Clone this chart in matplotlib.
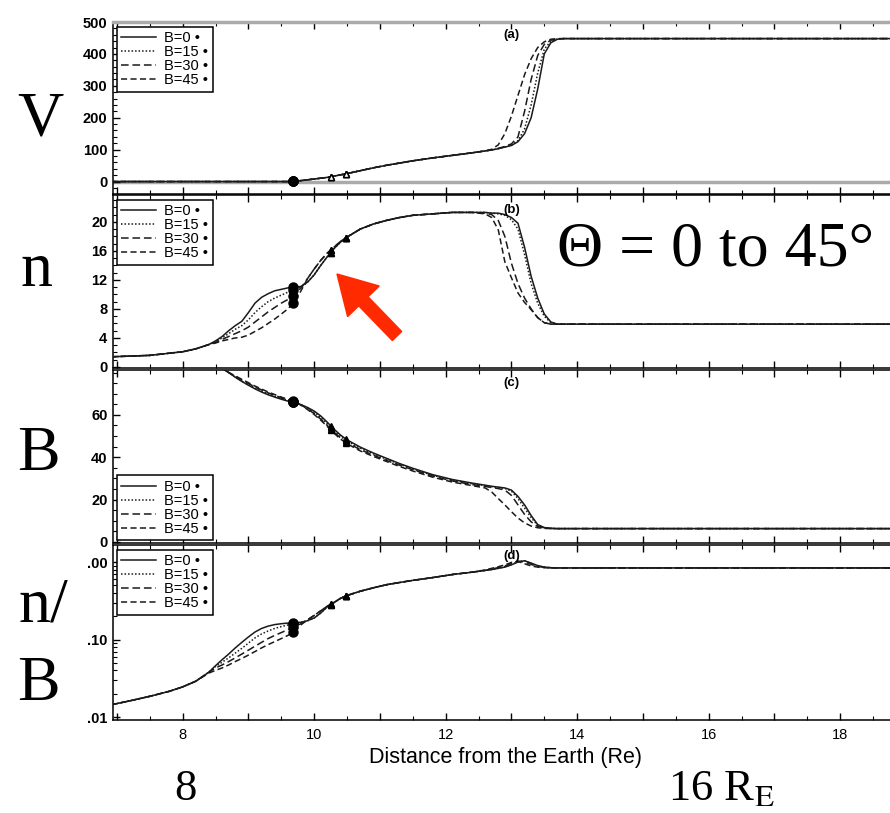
import numpy as np
import matplotlib
matplotlib.use("Agg")
import matplotlib.pyplot as plt
from matplotlib.ticker import MultipleLocator, FixedLocator, FixedFormatter, FuncFormatter, LogLocator, NullFormatter
from matplotlib.patches import FancyArrow
from matplotlib.transforms import IdentityTransform

# ---------------- data ----------------
distance = [6.9, 7.2, 7.5, 7.8, 8.0, 8.2, 8.4, 8.5, 8.6, 8.7, 8.8, 8.9, 9.0, 9.1, 9.2, 9.3,
            9.4, 9.5, 9.6, 9.7, 9.8, 9.9, 10.0, 10.1, 10.2, 10.3, 10.4, 10.5, 10.7, 10.9,
            11.1, 11.3, 11.5, 11.8, 12.1, 12.4, 12.6, 12.7, 12.8, 12.9, 13.0, 13.1, 13.2,
            13.3, 13.4, 13.5, 13.6, 13.7, 13.8, 14.0, 15.0, 16.0, 17.0, 18.0, 19.0]

series_labels = ["B=0 \u2022", "B=15 \u2022", "B=30 \u2022", "B=45 \u2022"]

# (a) velocity
V_b0 = [0, 0, 0, 0, 0, 0, 0, 0, 0, 0, 0, 0, 0, 0, 0, 0, 0, 0, 0, 0.5, 3, 5.5, 8, 10.5, 13, 17, 21, 25,
        34, 43, 51, 58, 65, 74, 82, 90, 96, 99, 103, 108, 113, 125, 150, 200, 290, 400, 435, 446,
        448, 448, 448, 448, 448, 448, 448]
V_b15 = [0, 0, 0, 0, 0, 0, 0, 0, 0, 0, 0, 0, 0, 0, 0, 0, 0, 0, 0, 0.5, 3, 5.5, 8, 10.5, 13, 17, 21, 25,
         34, 43, 51, 58, 65, 74, 82, 90, 96, 99, 103, 108, 114, 128, 165, 240, 340, 415, 440, 447,
         448, 448, 448, 448, 448, 448, 448]
V_b30 = [0, 0, 0, 0, 0, 0, 0, 0, 0, 0, 0, 0, 0, 0, 0, 0, 0, 0, 0, 0.5, 3, 5.5, 8, 10.5, 13, 17, 21, 25,
         34, 43, 51, 58, 65, 74, 82, 90, 96, 99, 104, 110, 118, 140, 220, 320, 395, 430, 443, 447,
         448, 448, 448, 448, 448, 448, 448]
V_b45 = [0, 0, 0, 0, 0, 0, 0, 0, 0, 0, 0, 0, 0, 0, 0, 0, 0, 0, 0, 0.5, 3, 5.5, 8, 10.5, 13, 17, 21, 25,
         34, 43, 51, 58, 65, 74, 82, 90, 96, 101, 115, 150, 205, 270, 335, 385, 420, 438, 446, 448,
         448, 448, 448, 448, 448, 448, 448]

# (b) density
n_b0 = [1.4, 1.5, 1.6, 1.9, 2.1, 2.5, 3.1, 3.6, 4.2, 5.0, 5.7, 6.3, 7.5, 8.8, 9.6, 10.1, 10.5, 10.7,
        10.9, 11.0, 11.1, 11.7, 12.7, 14.0, 15.2, 16.3, 17.2, 17.9, 19.0, 19.7, 20.2, 20.6, 20.9,
        21.1, 21.3, 21.3, 21.3, 21.2, 21.2, 21.0, 20.6, 19.8, 16.5, 12.5, 9.5, 7.3, 6.2, 5.9, 5.9,
        5.9, 5.9, 5.9, 5.9, 5.9, 5.9]
n_b15 = [1.4, 1.5, 1.6, 1.9, 2.1, 2.5, 3.1, 3.5, 4.0, 4.6, 5.2, 5.7, 6.5, 7.5, 8.3, 9.0, 9.5, 9.9,
         10.3, 10.6, 11.0, 11.7, 12.7, 14.0, 15.2, 16.3, 17.2, 17.9, 19.0, 19.7, 20.2, 20.6, 20.9,
         21.1, 21.3, 21.3, 21.3, 21.2, 21.1, 20.9, 20.3, 19.0, 15.5, 11.5, 8.8, 7.0, 6.1, 5.9, 5.9,
         5.9, 5.9, 5.9, 5.9, 5.9, 5.9]
n_b30 = [1.4, 1.5, 1.6, 1.9, 2.1, 2.5, 3.1, 3.4, 3.8, 4.2, 4.6, 5.0, 5.5, 6.2, 6.9, 7.6, 8.2, 8.8,
         9.3, 9.9, 10.9, 12.2, 13.5, 14.7, 15.7, 16.5, 17.3, 17.9, 19.0, 19.7, 20.2, 20.6, 20.9,
         21.1, 21.3, 21.3, 21.2, 21.0, 20.2, 18.0, 14.3, 11.5, 9.5, 8.0, 6.8, 6.1, 5.9, 5.9, 5.9,
         5.9, 5.9, 5.9, 5.9, 5.9, 5.9]
n_b45 = [1.4, 1.5, 1.6, 1.9, 2.1, 2.5, 3.1, 3.3, 3.6, 3.8, 4.0, 4.1, 4.4, 4.9, 5.4, 6.0, 6.6, 7.3,
         8.0, 9.0, 10.5, 12.2, 13.5, 14.7, 15.7, 16.5, 17.3, 17.9, 19.0, 19.7, 20.2, 20.6, 20.9,
         21.1, 21.3, 21.3, 21.1, 20.6, 18.9, 14.5, 12.3, 10.2, 8.9, 7.9, 6.8, 6.1, 5.9, 5.9, 5.9,
         5.9, 5.9, 5.9, 5.9, 5.9, 5.9]

# (c) magnetic field
B_b0 = [125, 118, 110, 102, 97, 92, 86, 84, 82, 80, 77.8, 75.8, 74, 72.3, 70.8, 69.5, 68.4, 67.4,
        66.5, 65.7, 64.8, 63.5, 61.8, 59.5, 56.5, 53.3, 50.5, 48.2, 44.8, 42, 39.5, 37, 34.8, 31.8,
        29.5, 27.8, 26.8, 26.3, 25.9, 25.5, 24.5, 21.5, 17.5, 12.5, 8.2, 6.8, 6.4, 6.3, 6.3,
        6.3, 6.3, 6.3, 6.3, 6.3, 6.3]
B_b15 = [125, 118, 110, 102, 97, 92, 86, 84, 82, 80, 77.8, 75.8, 74.3, 72.7, 71.2, 69.9, 68.8, 67.7,
         66.8, 65.9, 64.8, 63.2, 61.3, 58.8, 55.8, 52.6, 49.8, 47.6, 44.3, 41.6, 39.1, 36.7, 34.5,
         31.5, 29.2, 27.5, 26.6, 26.1, 25.7, 25.3, 24.0, 20.5, 16.0, 11.5, 7.8, 6.7, 6.4, 6.3, 6.3,
         6.3, 6.3, 6.3, 6.3, 6.3, 6.3]
B_b30 = [125, 118, 110, 102, 97, 92, 86, 84, 82, 80, 78.2, 76.4, 74.8, 73.2, 71.8, 70.4, 69.2, 68.1,
         67.1, 66.1, 64.7, 62.8, 60.6, 58.0, 55.0, 51.9, 49.1, 46.9, 43.6, 41.0, 38.5, 36.2, 34.1,
         31.1, 28.8, 27.1, 26.2, 25.7, 25.2, 24.5, 22.0, 17.5, 13.0, 9.5, 7.3, 6.6, 6.4, 6.3, 6.3,
         6.3, 6.3, 6.3, 6.3, 6.3, 6.3]
B_b45 = [125, 118, 110, 102, 97, 92, 86, 84, 82, 80, 78.4, 76.8, 75.2, 73.6, 72.2, 70.8, 69.6, 68.4,
         67.3, 66.3, 64.6, 62.5, 60.2, 57.5, 54.5, 51.4, 48.6, 46.4, 43.0, 40.4, 38.0, 35.6, 33.5,
         30.6, 28.3, 26.6, 25.5, 23.6, 20.5, 17.5, 14.3, 11.3, 9.0, 7.5, 6.7, 6.4, 6.3, 6.3, 6.3,
         6.3, 6.3, 6.3, 6.3, 6.3, 6.3]

# (d) n/B
r_b0 = [0.0143, 0.0162, 0.0185, 0.0215, 0.0245, 0.029, 0.038, 0.046, 0.055, 0.065, 0.078, 0.092,
        0.108, 0.125, 0.139, 0.149, 0.156, 0.160, 0.163, 0.165, 0.167, 0.175, 0.19, 0.22, 0.265,
        0.30, 0.34, 0.37, 0.42, 0.465, 0.51, 0.545, 0.58, 0.63, 0.69, 0.74, 0.78, 0.80, 0.83, 0.86,
        0.92, 1.0, 1.04, 0.97, 0.90, 0.86, 0.845, 0.84, 0.84, 0.84, 0.84, 0.84, 0.84, 0.84, 0.84]
r_b15 = [0.0143, 0.0162, 0.0185, 0.0215, 0.0245, 0.029, 0.038, 0.045, 0.051, 0.058, 0.067, 0.077,
         0.090, 0.105, 0.118, 0.129, 0.139, 0.147, 0.154, 0.160, 0.166, 0.175, 0.19, 0.22, 0.265,
         0.30, 0.34, 0.37, 0.42, 0.465, 0.51, 0.545, 0.58, 0.63, 0.69, 0.74, 0.78, 0.80, 0.83, 0.87,
         0.93, 1.01, 1.04, 0.96, 0.89, 0.86, 0.845, 0.84, 0.84, 0.84, 0.84, 0.84, 0.84, 0.84, 0.84]
r_b30 = [0.0143, 0.0162, 0.0185, 0.0215, 0.0245, 0.029, 0.038, 0.043, 0.047, 0.052, 0.058, 0.065,
         0.073, 0.082, 0.092, 0.103, 0.113, 0.123, 0.134, 0.148, 0.160, 0.180, 0.205, 0.235, 0.27,
         0.30, 0.34, 0.37, 0.42, 0.465, 0.51, 0.545, 0.58, 0.63, 0.69, 0.74, 0.78, 0.81, 0.85, 0.89,
         0.96, 1.03, 1.0, 0.93, 0.88, 0.855, 0.845, 0.84, 0.84, 0.84, 0.84, 0.84, 0.84, 0.84, 0.84]
r_b45 = [0.0143, 0.0162, 0.0185, 0.0215, 0.0245, 0.029, 0.037, 0.040, 0.043, 0.047, 0.052, 0.057,
         0.063, 0.070, 0.078, 0.086, 0.094, 0.103, 0.113, 0.130, 0.155, 0.180, 0.205, 0.235, 0.27,
         0.30, 0.34, 0.37, 0.42, 0.465, 0.51, 0.545, 0.58, 0.63, 0.69, 0.74, 0.79, 0.83, 0.87, 0.92,
         0.99, 1.02, 0.95, 0.89, 0.86, 0.845, 0.84, 0.84, 0.84, 0.84, 0.84, 0.84, 0.84, 0.84, 0.84]

# marker positions (distance, Re)
circle_x = [9.68]
triangle_x = [10.25, 10.48]

a_ticks = [0, 100, 200, 300, 400, 500]
b_ticks = [0, 4, 8, 12, 16, 20]
c_ticks = [0, 20, 40, 60]
d_ticks = [0.01, 0.1, 1.0]
d_tick_labels = [".01", ".10", ".00"]
x_ticks_labelled = [8, 10, 12, 14, 16, 18]
panel_tags = ["(a)", "(b)", "(c)", "(d)"]

# ---------------- figure ----------------
W, H = 890, 813
fig = plt.figure(figsize=(W / 100, H / 100), dpi=100)
plt.rcParams['mathtext.fontset'] = 'stix'

def rect(top, bot, left=113):
    return [left / W, 1 - bot / H, 1 - left / W + 0.01, (bot - top) / H]

ax_a = fig.add_axes(rect(22, 194))
ax_b = fig.add_axes(rect(195, 368))
ax_c = fig.add_axes(rect(370, 543))
ax_d = fig.add_axes(rect(545, 720))
axes = [ax_a, ax_b, ax_c, ax_d]

styles = ['-', (0, (1, 1.3)), (0, (5, 2.5)), (0, (4, 2.2))]
lc = '#1a1a1a'
sans = ['Liberation Sans', 'DejaVu Sans']

panels = [
    (ax_a, [V_b0, V_b15, V_b30, V_b45], (-39, 500), a_ticks),
    (ax_b, [n_b0, n_b15, n_b30, n_b45], (-0.14, 23.7), b_ticks),
    (ax_c, [B_b0, B_b15, B_b30, B_b45], (-0.5, 81.2), c_ticks),
    (ax_d, [r_b0, r_b15, r_b30, r_b45], (0.00915, 1.66), d_ticks),
]

xmin = 6.94
xmax = xmin + (W - 113) / 65.0

for i, (ax, ser, ylim, yt) in enumerate(panels):
    if ax is ax_d:
        ax.set_yscale('log')
    for s, ls, lab in zip(ser, styles, series_labels):
        ax.plot(distance, s, linestyle=ls, color=lc, lw=1.1, label=lab, zorder=3)
        cy = np.interp(circle_x, distance, s)
        ax.plot(circle_x, cy, 'o', color='black', ms=6.5, zorder=4)
        ty = np.interp(triangle_x, distance, s)
        ax.plot(triangle_x, ty, '^', color='black', ms=5, zorder=4,
                mfc='white' if ax is ax_a else 'black', mew=1)
    ax.set_xlim(xmin, xmax)
    ax.set_ylim(*ylim)
    ax.xaxis.set_major_locator(MultipleLocator(1))
    ax.xaxis.set_minor_locator(MultipleLocator(0.5))
    ax.set_yticks(yt)
    ax.tick_params(axis='both', which='both', direction='in', top=True, right=False, colors='black')
    ax.tick_params(axis='both', which='major', length=5, width=1)
    ax.tick_params(axis='both', which='minor', length=3, width=0.8)
    ax.tick_params(axis='y', pad=4)
    ax.spines['right'].set_visible(False)
    for sp in ax.spines.values():
        sp.set_linewidth(1.1)
    if ax is not ax_d:
        ax.tick_params(axis='x', labelbottom=False)
    ax.text(0.507, [0.924, 0.913, 0.925, 0.937][i], panel_tags[i], transform=ax.transAxes,
            ha='center', va='center', fontsize=9.5, fontweight='bold', family=sans, zorder=6)

ax_a.yaxis.set_minor_locator(MultipleLocator(20))
ax_b.yaxis.set_minor_locator(MultipleLocator(1))
ax_c.yaxis.set_minor_locator(MultipleLocator(5))
ax_d.yaxis.set_major_locator(FixedLocator(d_ticks))
ax_d.yaxis.set_major_formatter(FixedFormatter(d_tick_labels))
ax_d.yaxis.set_minor_locator(LogLocator(base=10, subs=np.arange(2, 10)))
ax_d.yaxis.set_minor_formatter(NullFormatter())

# gray top frame and zero line in (a)
ax_a.spines['top'].set_color('#aaaaaa')
ax_a.spines['top'].set_linewidth(2.5)
ax_a.axhline(0, color='#aaaaaa', lw=2.5, zorder=1)

for ax in axes:
    for lbl in ax.get_yticklabels():
        lbl.set_family(sans)
        lbl.set_size(10.5)
        lbl.set_weight('bold')

ax_d.xaxis.set_major_formatter(FuncFormatter(
    lambda v, p: f"{int(round(v))}" if int(round(v)) in x_ticks_labelled else ""))
for lbl in ax_d.get_xticklabels():
    lbl.set_family(sans)
    lbl.set_size(10.5)
ax_d.tick_params(axis='x', pad=6)
ax_d.set_xlabel("Distance from the Earth (Re)", fontsize=15.5, family=sans, labelpad=3)

# legends
leg_kw = dict(prop=dict(family=sans, size=10.5),
              frameon=True, fancybox=False, edgecolor='black', framealpha=1,
              handlelength=2.4, handletextpad=0.55, labelspacing=0.0, borderpad=0.3,
              borderaxespad=0)
for ax in (ax_a, ax_b, ax_d):
    h, l = ax.get_legend_handles_labels()
    lg = ax.legend(h[:4], l[:4], loc='upper left', bbox_to_anchor=(0.005, 0.972), **leg_kw)
    lg.get_frame().set_linewidth(1.1)
h, l = ax_c.get_legend_handles_labels()
lg = ax_c.legend(h[:4], l[:4], loc='lower left', bbox_to_anchor=(0.005, 0.017), **leg_kw)
lg.get_frame().set_linewidth(1.1)

# big overlaid annotations
serif = ['Liberation Serif', 'DejaVu Serif']
def ftext(x, y, s, size, **kw):
    fig.text(x / W, 1 - y / H, s, fontsize=size, family=serif, **kw)

ftext(40, 135, "V", 46, ha='center', va='baseline')
ftext(36, 286, "n", 46, ha='center', va='baseline')
ftext(38, 470, "B", 46, ha='center', va='baseline')
ftext(43, 622, "n/", 46, ha='center', va='baseline')
ftext(38, 700, "B", 46, ha='center', va='baseline')
ftext(557, 266, "\u0398 = 0 to 45\u00b0", 46, ha='left', va='baseline')
ftext(185, 800, "8", 32, ha='center', va='baseline')
ftext(668, 800, "16 R$_{\\mathrm{E}}$", 32, ha='left', va='baseline')

# red arrow
arr = FancyArrow(397, H - 336, -60, 62, width=13, head_width=44, head_length=38,
                 length_includes_head=True, color='#ff2a00', transform=IdentityTransform(), zorder=10)
fig.add_artist(arr)

fig.savefig("out.png", dpi=100)
